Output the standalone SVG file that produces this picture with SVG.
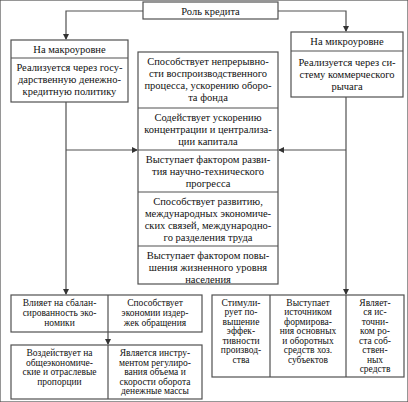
<svg xmlns="http://www.w3.org/2000/svg" width="408" height="402" viewBox="0 0 408 402">
<defs>
<marker id="ah" markerWidth="6" markerHeight="6" refX="5" refY="3" orient="auto" markerUnits="userSpaceOnUse">
<path d="M0,0 L6,3 L0,6 Z" fill="#333"/>
</marker>
</defs>
<style>
rect,line.d{fill:#fff;stroke:#505050;stroke-width:1.2}
line.d{fill:none}
.c path{fill:none;stroke:#505050;stroke-width:1.2}
text{font-family:"Liberation Serif","Times New Roman",serif;font-size:10.5px;fill:#111;text-anchor:middle}
.s text{font-size:9.5px}
</style>
<rect width="408" height="402" fill="#fff" stroke="none"/>
<g class="c" id="connectors">
<path d="M143,11 H66 V39" marker-end="url(#ah)"/>
<path d="M278,11 H346 V31" marker-end="url(#ah)"/>
<path d="M66,102 V294" marker-end="url(#ah)"/>
<path d="M66,150 H137" marker-end="url(#ah)"/>
<path d="M346,97 V294" marker-end="url(#ah)"/>
<path d="M346,150 H279" marker-end="url(#ah)"/>
<path d="M108,332 V344" marker-end="url(#ah)"/>
</g>
<g id="root">
<rect x="143" y="2" width="135" height="17"/>
<text x="210.5" y="14.5">Роль кредита</text>
</g>
<g id="macro">
<rect x="11" y="40" width="117" height="62"/>
<line class="d" x1="11" y1="58" x2="128" y2="58"/>
<text x="69.5" y="52.5">На макроуровне</text>
<text x="69.5" y="71">Реализуется через госу-</text>
<text x="69.5" y="83">дарственную денежно-</text>
<text x="69.5" y="95">кредитную политику</text>
</g>
<g id="micro">
<rect x="291" y="32" width="112" height="65"/>
<line class="d" x1="291" y1="51" x2="403" y2="51"/>
<text x="347" y="45">На микроуровне</text>
<text x="347" y="66">Реализуется через си-</text>
<text x="347" y="78">стему коммерческого</text>
<text x="347" y="90">рычага</text>
</g>
<g id="center">
<rect x="138" y="52" width="140" height="232"/>
<line class="d" x1="138" y1="108" x2="278" y2="108"/>
<line class="d" x1="138" y1="150" x2="278" y2="150"/>
<line class="d" x1="138" y1="192" x2="278" y2="192"/>
<line class="d" x1="138" y1="246" x2="278" y2="246"/>
<text x="208" y="65">Способствует непрерывно-</text>
<text x="208" y="77">сти воспроизводственного</text>
<text x="208" y="89">процесса, ускорению оборо-</text>
<text x="208" y="101">та фонда</text>
<text x="208" y="121">Содействует ускорению</text>
<text x="208" y="133">концентрации и централиза-</text>
<text x="208" y="145">ции капитала</text>
<text x="208" y="163">Выступает фактором разви-</text>
<text x="208" y="175">тия научно-технического</text>
<text x="208" y="187">прогресса</text>
<text x="208" y="205">Способствует развитию,</text>
<text x="208" y="217">международных экономиче-</text>
<text x="208" y="229">ских связей, международно-</text>
<text x="208" y="241">го разделения труда</text>
<text x="208" y="259">Выступает фактором повы-</text>
<text x="208" y="271">шения жизненного уровня</text>
<text x="208" y="283">населения</text>
</g>
<g id="bl1" class="s">
<rect x="11" y="295" width="191" height="37"/>
<line class="d" x1="108" y1="295" x2="108" y2="332"/>
<text x="59.5" y="306">Влияет на сбалан-</text>
<text x="59.5" y="316">сированность эко-</text>
<text x="59.5" y="326">номики</text>
<text x="155" y="306">Способствует</text>
<text x="155" y="316">экономии издер-</text>
<text x="155" y="326">жек обращения</text>
</g>
<g id="bl2" class="s">
<rect x="11" y="345" width="191" height="54"/>
<line class="d" x1="108" y1="345" x2="108" y2="399"/>
<text x="59.5" y="356">Воздействует на</text>
<text x="59.5" y="365.5">общеэкономиче-</text>
<text x="59.5" y="375">ские и отраслевые</text>
<text x="59.5" y="384.5">пропорции</text>
<text x="155" y="356">Является инстру-</text>
<text x="155" y="365.5">ментом регулиро-</text>
<text x="155" y="375">вания объема и</text>
<text x="155" y="384.5">скорости оборота</text>
<text x="155" y="394">денежные массы</text>
</g>
<g id="br" class="s">
<rect x="212" y="295" width="192" height="82"/>
<line class="d" x1="270" y1="295" x2="270" y2="377"/>
<line class="d" x1="346" y1="295" x2="346" y2="377"/>
<text x="241" y="305.5">Стимули-</text>
<text x="241" y="315">рует по-</text>
<text x="241" y="324.5">вышение</text>
<text x="241" y="334">эффек-</text>
<text x="241" y="343.5">тивности</text>
<text x="241" y="353">производ-</text>
<text x="241" y="362.5">ства</text>
<text x="308" y="305.5">Выступает</text>
<text x="308" y="315">источником</text>
<text x="308" y="324.5">формирова-</text>
<text x="308" y="334">ния основных</text>
<text x="308" y="343.5">и оборотных</text>
<text x="308" y="353">средств хоз.</text>
<text x="308" y="362.5">субъектов</text>
<text x="375" y="305.5">Являет-</text>
<text x="375" y="315">ся ис-</text>
<text x="375" y="324.5">точни-</text>
<text x="375" y="334">ком ро-</text>
<text x="375" y="343.5">ста соб-</text>
<text x="375" y="353">ствен-</text>
<text x="375" y="362.5">ных</text>
<text x="375" y="372">средств</text>
</g>
</svg>
